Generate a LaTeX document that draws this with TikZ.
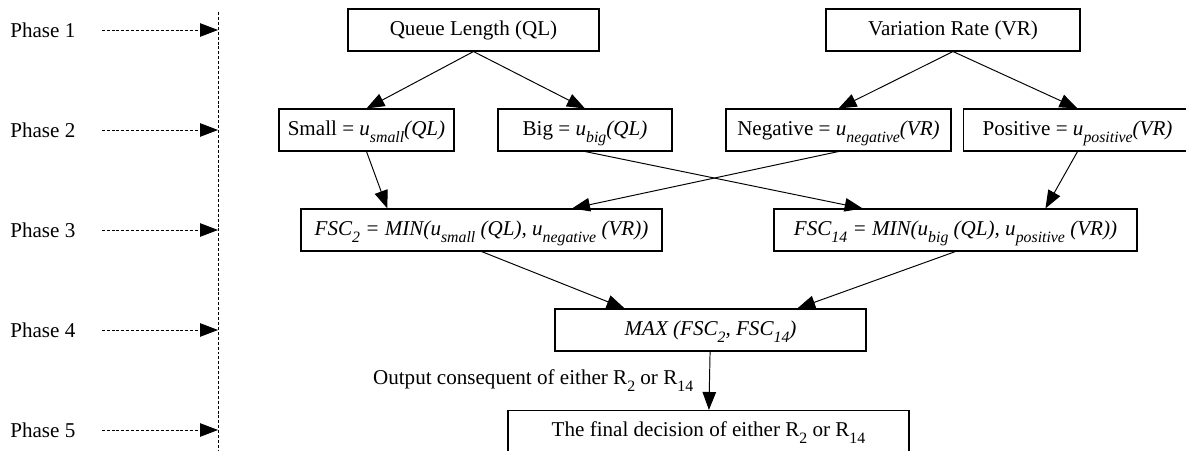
\documentclass[tikz,border=0pt]{standalone}
\usepackage{fontspec}
\setmainfont{Liberation Serif}
\usetikzlibrary{arrows.meta, calc}

\newcommand{\lowsub}[1]{\raisebox{-4pt}{\fontsize{9}{10}\selectfont #1}}

\begin{document}
\begin{tikzpicture}[
  font=\fontsize{12}{14}\selectfont,
  box/.style={draw, line width=0.6pt, minimum height=0.84cm, text height=8.5pt, text depth=2.5pt, inner sep=0pt},
  arr/.style={-{Triangle[length=0.36cm, width=0.27cm]}, line width=0.55pt},
  dasharr/.style={arr, dash pattern=on 1.7pt off 1.1pt},
  phase/.style={anchor=west, inner sep=0pt}
]
  \useasboundingbox (0,0) rectangle (23.72,9);

  % phases on the left
  \coordinate (vtop) at (4.36,8.76);
  \coordinate (vbot) at (4.36,0);
  \draw[line width=0.5pt, dash pattern=on 1.7pt off 1.1pt] (vtop) -- (vbot);
  \foreach \i in {1,...,5} {
    \node[phase] (ph\i) at (0.2,{8.4-2*(\i-1)}) {Phase \i};
    \coordinate (tl\i) at (4.36,{8.4-2*(\i-1)});
    \draw[dasharr, shorten <=0.52cm] (ph\i) -- (tl\i);
  }

  % inputs
  \node[box, minimum width=5.02cm] (QL) at (9.47,8.4) {Queue Length (QL)};
  \node[box, minimum width=5.08cm] (VR) at (19.06,8.4) {Variation Rate (VR)};

  % membership values
  \node[box, minimum width=3.5cm] (small) at (7.33,6.4) {Small = \textit{u\lowsub{small}(QL)}};
  \node[box, minimum width=3.48cm] (big) at (11.7,6.4) {Big = \textit{u\lowsub{big}(QL)}};
  \node[box, minimum width=4.5cm] (neg) at (16.77,6.4) {Negative = \textit{u\lowsub{negative}(VR)}};
  \node[box, minimum width=4.56cm, anchor=west] (pos) at (19.26,6.4) {Positive = \textit{u\lowsub{positive}(VR)}};

  % rule strengths
  \node[box, minimum width=7.22cm, font=\fontsize{12}{14}\selectfont\itshape] (fsc2) at (9.63,4.4)
    {FSC\lowsub{2} = MIN(u\lowsub{small} (QL), u\lowsub{negative} (VR))};
  \node[box, minimum width=7.26cm, font=\fontsize{12}{14}\selectfont\itshape] (fsc14) at (19.11,4.4)
    {FSC\lowsub{14} = MIN(u\lowsub{big} (QL), u\lowsub{positive} (VR))};

  \node[box, minimum width=6.22cm, font=\fontsize{12}{14}\selectfont\itshape] (max) at (14.21,2.4)
    {MAX (FSC\lowsub{2}, FSC\lowsub{14})};
  \node[box, minimum width=8.02cm] (final) at (14.17,0.37)
    {The final decision of either R\lowsub{2} or R\lowsub{14}};

  \draw[arr] (QL.south) -- (small.north);
  \draw[arr] (QL.south) -- (big.north);
  \draw[arr] (VR.south) -- (neg.north);
  \draw[arr] (VR.south) -- (pos.north);

  \draw[arr] (small.south) -- ($(fsc2.north west)!0.24!(fsc2.north east)$);
  \draw[arr] (neg.south) -- ($(fsc2.north west)!0.75!(fsc2.north east)$);
  \draw[arr] (big.south) -- ($(fsc14.north west)!0.245!(fsc14.north east)$);
  \draw[arr] (pos.south) -- ($(fsc14.north west)!0.747!(fsc14.north east)$);

  \draw[arr] (fsc2.south) -- ($(max.north west)!0.225!(max.north east)$);
  \draw[arr] (fsc14.south) -- ($(max.north west)!0.778!(max.north east)$);

  \draw[arr] (max) -- node[left=2mm] {Output consequent of either R\lowsub{2} or R\lowsub{14}} (final);
\end{tikzpicture}
\end{document}
